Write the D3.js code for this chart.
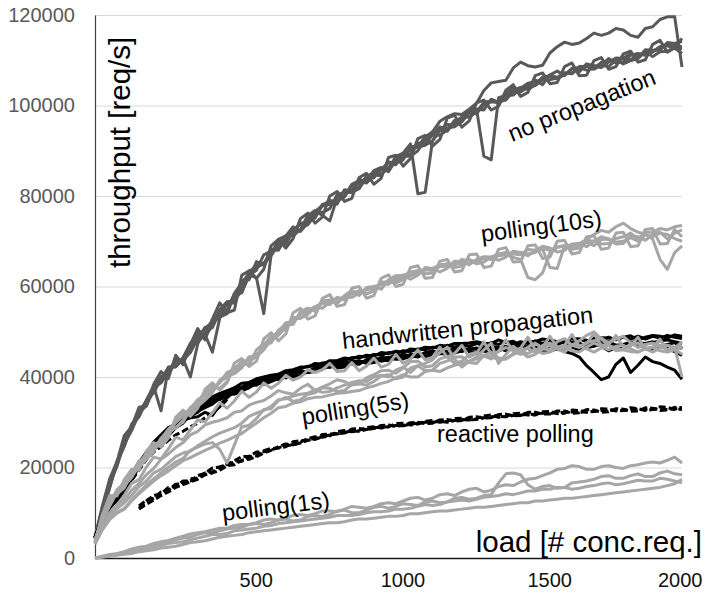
<!DOCTYPE html>
<html>
<head>
<meta charset="utf-8">
<script src="https://cdn.jsdelivr.net/npm/d3@7"></script>
<style>
  html, body { margin: 0; padding: 0; background: #fff; }
  svg { display: block; font-family: "Liberation Sans", Arial, sans-serif; }
</style>
</head>
<body>
<svg id="chart" width="706" height="594"></svg>
<script>
// ---------------- DATA (throughput in thousands of req/s) ----------------
const LOAD = [0, 25, 50, 75, 100, 125, 150, 175, 200, 225,
  250, 275, 300, 325, 350, 375, 400, 425, 450, 475,
  500, 525, 550, 575, 600, 625, 650, 675, 700, 725,
  750, 775, 800, 825, 850, 875, 900, 925, 950, 975,
  1000, 1025, 1050, 1075, 1100, 1125, 1150, 1175, 1200, 1225,
  1250, 1275, 1300, 1325, 1350, 1375, 1400, 1425, 1450, 1475,
  1500, 1525, 1550, 1575, 1600, 1625, 1650, 1675, 1700, 1725,
  1750, 1775, 1800, 1825, 1850, 1875, 1900, 1925, 1950, 1975,
  2000];
const UNIT = 1000;

const Y_TICKS = [0, 20000, 40000, 60000, 80000, 100000, 120000];
const X_TICKS = [500, 1000, 1500, 2000];

// no propagation
const NP1 = [4.5, 10.8, 16.4, 20.3, 25.9, 28.5, 32.2, 33.6, 37.2, 40.1,
  40.6, 43.6, 43.3, 46.5, 49.6, 49.4, 45.5, 53.0, 56.6, 56.3,
  61.2, 61.5, 65.5, 64.8, 68.3, 68.0, 71.1, 73.2, 72.2, 75.2,
  75.1, 78.2, 78.3, 78.2, 81.4, 81.1, 83.8, 82.9, 84.7, 84.5,
  87.6, 86.9, 89.4, 89.1, 91.7, 91.5, 93.6, 95.3, 94.3, 96.4,
  96.5, 99.0, 99.2, 99.0, 101.4, 100.7, 102.5, 104.0, 103.1, 104.6,
  105.6, 104.6, 106.8, 107.6, 106.6, 108.2, 107.4, 109.2, 108.8, 108.5,
  110.4, 109.4, 110.5, 111.5, 110.4, 112.3, 112.2, 112.2, 113.9, 113.7,
  114.2];
const NP2 = [4.3, 10.1, 15.7, 21.4, 24.9, 29.6, 31.5, 34.9, 37.9, 32.5,
  42.1, 42.2, 44.1, 47.5, 48.8, 49.0, 51.3, 54.9, 56.6, 56.9,
  59.5, 63.3, 64.6, 65.2, 67.0, 70.4, 71.2, 71.2, 72.6, 75.7,
  76.8, 75.7, 74.5, 79.7, 81.0, 80.8, 82.0, 84.4, 85.1, 84.9,
  86.0, 88.7, 89.5, 91.5, 80.5, 80.8, 92.2, 94.6, 95.8, 95.7,
  97.5, 97.4, 98.6, 100.7, 101.0, 100.6, 101.5, 103.4, 104.0, 103.5,
  104.6, 106.3, 106.5, 105.9, 106.8, 108.1, 108.4, 107.8, 108.2, 109.5,
  110.0, 109.5, 109.6, 111.1, 111.5, 111.1, 111.8, 113.0, 113.4, 113.1,
  113.0];
const NP3 = [4.7, 11.0, 16.5, 20.5, 25.5, 29.3, 31.2, 34.7, 36.5, 39.6,
  42.0, 42.4, 44.0, 40.0, 47.3, 50.8, 52.1, 53.2, 54.8, 58.5,
  60.8, 62.9, 64.2, 65.0, 66.8, 69.4, 70.8, 72.4, 73.8, 73.6,
  75.8, 77.8, 78.2, 78.9, 79.8, 82.3, 82.8, 83.0, 84.8, 86.1,
  86.2, 88.1, 88.8, 88.8, 90.0, 92.3, 93.4, 93.4, 94.6, 96.7,
  97.2, 98.5, 99.2, 88.8, 88.0, 101.7, 102.2, 102.3, 103.8, 104.9,
  105.2, 105.9, 106.7, 106.2, 107.2, 107.0, 108.6, 108.7, 108.8, 108.4,
  109.6, 110.5, 110.4, 110.1, 111.2, 111.7, 112.0, 112.9, 113.2, 112.7,
  112.6];
const NP4 = [4.4, 10.7, 16.0, 21.2, 25.3, 28.2, 31.9, 34.0, 37.6, 38.7,
  41.1, 43.7, 43.7, 45.4, 48.5, 51.0, 50.9, 54.5, 56.0, 57.0,
  59.0, 62.4, 63.6, 67.0, 67.8, 68.3, 70.5, 72.8, 72.2, 74.0,
  76.2, 76.4, 77.2, 80.3, 80.8, 80.8, 81.6, 84.1, 84.0, 85.9,
  87.4, 87.2, 88.0, 90.9, 91.0, 93.0, 94.2, 96.5, 97.5, 98.2,
  98.0, 99.2, 100.5, 103.3, 105.0, 105.3, 105.6, 108.3, 109.6, 108.8,
  108.5, 108.9, 111.6, 113.0, 114.0, 113.5, 113.8, 114.8, 116.0, 115.5,
  116.0, 117.0, 116.7, 115.5, 115.1, 117.0, 117.4, 119.0, 119.6, 119.6,
  108.5];
const NP5 = [4.6, 10.0, 15.5, 21.1, 24.7, 29.2, 32.5, 34.6, 37.9, 38.9,
  42.2, 42.4, 44.3, 47.2, 47.7, 49.4, 52.7, 53.2, 54.0, 58.2,
  58.6, 62.5, 62.0, 54.0, 67.0, 69.8, 69.4, 72.2, 74.0, 74.2,
  76.6, 77.9, 79.0, 78.8, 80.0, 82.6, 83.4, 83.2, 85.6, 86.3,
  85.4, 87.9, 88.6, 90.3, 90.8, 91.2, 92.2, 94.5, 95.0, 95.3,
  96.4, 98.4, 98.2, 100.1, 100.8, 100.8, 101.2, 103.2, 103.0, 104.1,
  104.4, 105.7, 105.7, 106.1, 107.2, 107.2, 108.0, 108.8, 108.0, 108.9,
  108.6, 110.1, 109.2, 109.9, 110.4, 111.9, 110.8, 111.9, 112.0, 112.9,
  114.8];
const NP6 = [4.5, 11.5, 17.5, 21.3, 27.1, 29.0, 33.3, 33.6, 38.4, 41.2,
  39.7, 44.8, 42.7, 47.2, 50.7, 48.2, 52.8, 56.4, 54.2, 54.8,
  62.5, 63.5, 61.8, 63.8, 69.0, 70.4, 68.5, 70.6, 75.0, 76.2,
  74.0, 75.4, 80.0, 81.0, 78.8, 79.5, 84.1, 85.0, 82.6, 83.9,
  88.5, 89.0, 86.6, 88.3, 92.7, 93.4, 91.0, 92.5, 97.2, 97.8,
  95.2, 96.6, 100.6, 101.2, 99.0, 99.8, 103.4, 104.6, 102.0, 102.9,
  106.6, 107.2, 104.8, 105.1, 108.6, 109.4, 106.6, 106.7, 109.9, 110.6,
  108.0, 108.6, 111.4, 112.0, 109.6, 110.1, 113.5, 114.4, 111.8, 112.7,
  111.5];

// polling(10s)
const P10_1 = [3.5, 8.0, 12.0, 15.1, 16.5, 18.0, 21.0, 23.0, 25.0, 25.3,
  27.0, 30.3, 32.0, 31.7, 34.5, 36.7, 38.0, 37.5, 39.0, 42.1,
  43.0, 42.7, 46.0, 47.4, 47.5, 50.4, 51.5, 51.6, 54.5, 55.2,
  54.5, 56.8, 57.0, 56.2, 58.0, 59.1, 58.0, 59.8, 60.0, 59.4,
  61.5, 62.4, 62.5, 61.6, 62.5, 64.2, 64.0, 63.2, 64.0, 65.6,
  65.5, 64.8, 66.0, 66.6, 66.5, 65.8, 66.5, 67.8, 67.5, 66.8,
  68.0, 68.9, 68.5, 67.6, 68.0, 69.4, 69.5, 68.8, 70.0, 71.0,
  70.5, 69.4, 69.5, 71.2, 71.0, 70.2, 71.5, 72.0, 70.5, 71.8,
  72.5];
const P10_2 = [3.8, 9.0, 13.0, 14.1, 15.5, 18.8, 20.0, 21.8, 23.5, 26.5,
  28.0, 28.7, 30.5, 33.3, 33.5, 34.9, 36.5, 39.3, 40.5, 40.7,
  42.0, 44.5, 44.5, 46.0, 48.5, 50.0, 50.5, 53.2, 53.0, 53.8,
  55.5, 56.4, 56.0, 57.6, 57.0, 58.6, 59.0, 58.4, 59.0, 61.0,
  61.0, 60.8, 61.5, 63.2, 63.5, 62.8, 63.0, 64.6, 65.0, 64.2,
  64.5, 66.0, 65.0, 65.4, 66.5, 67.2, 67.5, 66.4, 66.0, 62.0,
  61.5, 63.0, 67.5, 68.6, 69.0, 68.2, 68.5, 69.8, 69.0, 70.4,
  70.5, 69.8, 70.0, 70.8, 70.0, 71.4, 71.0, 71.8, 71.5, 70.6,
  70.0];
const P10_3 = [3.2, 8.8, 12.5, 14.7, 16.0, 17.8, 20.5, 22.6, 24.0, 25.5,
  27.5, 28.9, 30.0, 32.9, 34.0, 35.1, 37.0, 38.9, 40.0, 40.9,
  42.5, 44.3, 45.0, 46.2, 48.0, 49.2, 51.0, 52.8, 53.0, 54.6,
  55.5, 55.2, 56.5, 57.4, 57.5, 57.6, 58.5, 59.4, 59.5, 60.6,
  60.5, 61.8, 62.0, 62.4, 63.0, 63.8, 63.5, 64.4, 64.5, 65.2,
  65.0, 65.8, 65.5, 66.2, 66.0, 66.8, 67.0, 67.4, 67.5, 67.2,
  67.5, 68.4, 68.0, 68.8, 69.0, 69.2, 69.5, 70.4, 71.5, 72.4,
  72.0, 73.2, 74.0, 72.8, 72.0, 71.6, 70.5, 66.0, 63.8, 67.5,
  69.0];
const P10_4 = [4.2, 8.2, 11.5, 14.5, 17.0, 18.6, 21.5, 22.0, 24.5, 26.3,
  28.5, 29.9, 31.5, 33.1, 35.0, 35.9, 37.5, 38.7, 41.0, 41.7,
  43.5, 43.5, 44.5, 47.0, 49.0, 49.8, 52.0, 52.2, 54.0, 54.8,
  55.5, 56.2, 57.0, 56.6, 57.5, 58.4, 59.0, 59.2, 60.0, 60.4,
  61.0, 61.2, 62.5, 63.0, 63.5, 63.6, 64.0, 64.8, 65.0, 64.6,
  66.0, 65.6, 65.5, 66.4, 66.0, 67.0, 67.5, 67.2, 67.0, 68.2,
  68.0, 68.2, 64.2, 64.0, 69.0, 68.6, 69.0, 70.2, 70.0, 69.4,
  69.5, 70.6, 71.0, 71.8, 70.5, 72.0, 72.0, 72.8, 72.5, 73.2,
  73.5];
const P10_5 = [3.6, 9.5, 13.8, 13.7, 17.4, 19.6, 19.4, 23.6, 25.5, 24.5,
  26.5, 31.1, 32.7, 31.3, 33.1, 37.3, 38.7, 37.1, 38.7, 43.1,
  44.1, 42.3, 43.5, 48.4, 49.8, 48.0, 49.5, 54.2, 55.2, 52.8,
  53.5, 57.4, 58.2, 55.6, 56.0, 59.6, 60.0, 57.4, 58.0, 61.8,
  62.6, 60.0, 60.5, 64.2, 64.6, 61.8, 62.0, 65.6, 66.0, 63.2,
  63.5, 67.0, 67.2, 64.2, 64.5, 68.2, 68.6, 65.4, 65.5, 69.0,
  69.2, 66.2, 66.5, 70.0, 70.2, 67.2, 67.5, 71.0, 71.2, 68.2,
  68.5, 71.8, 72.0, 68.8, 69.0, 72.6, 72.8, 69.4, 69.5, 72.6,
  71.0];

// handwritten propagation
const HW1 = [4.5, 8.3, 11.2, 13.5, 15.0, 18.2, 20.4, 22.5, 24.8, 26.8,
  27.4, 29.5, 30.2, 31.4, 32.6, 34.0, 34.2, 35.7, 36.2, 36.6,
  37.4, 38.4, 38.2, 39.3, 39.6, 39.5, 40.0, 41.0, 40.8, 41.2,
  42.0, 42.4, 42.1, 43.0, 43.0, 43.5, 43.4, 43.2, 43.4, 44.3,
  44.2, 44.8, 44.6, 44.4, 44.6, 45.4, 45.4, 45.1, 45.8, 46.2,
  45.6, 46.3, 46.2, 46.7, 46.6, 46.1, 46.0, 46.8, 46.8, 46.3,
  46.4, 47.1, 47.0, 46.5, 46.6, 47.2, 47.4, 46.9, 47.0, 47.5,
  47.6, 47.0, 47.2, 47.7, 47.8, 47.3, 47.6, 48.0, 48.2, 47.8,
  47.4];
const HW2 = [4.3, 8.6, 11.5, 13.0, 15.5, 17.7, 20.0, 23.0, 24.2, 26.0,
  27.8, 28.8, 29.8, 31.8, 33.0, 33.4, 34.8, 35.0, 35.8, 36.5,
  37.0, 37.6, 38.8, 38.4, 39.0, 39.7, 40.6, 40.1, 41.2, 41.0,
  41.6, 42.3, 42.6, 42.2, 42.6, 43.4, 43.0, 43.7, 44.0, 43.5,
  43.8, 44.5, 44.2, 45.0, 45.0, 44.6, 44.8, 45.6, 45.4, 45.9,
  46.2, 45.5, 45.6, 46.4, 46.0, 45.8, 46.4, 46.0, 45.8, 46.5,
  46.6, 45.9, 45.8, 46.2, 45.6, 45.2, 44.4, 42.5, 41.0, 39.4,
  40.0, 42.8, 44.2, 41.0, 42.6, 44.4, 43.4, 43.0, 42.2, 41.5,
  39.5];
const HW3 = [4.6, 8.8, 12.2, 14.0, 16.1, 18.6, 20.8, 23.4, 25.0, 27.0,
  28.2, 29.6, 30.6, 31.6, 32.2, 34.3, 35.0, 35.8, 36.6, 37.6,
  37.8, 38.8, 39.0, 39.9, 40.2, 40.6, 41.0, 41.4, 41.8, 42.4,
  42.4, 43.1, 43.2, 43.4, 43.6, 44.3, 44.2, 44.8, 44.6, 45.4,
  45.2, 45.7, 45.4, 46.2, 46.0, 46.6, 46.4, 47.0, 46.8, 47.4,
  47.4, 47.5, 47.8, 47.4, 47.4, 48.2, 47.6, 47.9, 47.0, 47.8,
  47.8, 48.4, 48.2, 47.8, 47.6, 48.5, 48.4, 48.1, 48.0, 48.7,
  48.6, 48.3, 48.8, 49.1, 48.2, 48.8, 49.2, 49.0, 48.6, 49.3,
  49.0];
const HW4 = [4.4, 8.2, 11.0, 12.8, 14.7, 17.4, 20.2, 22.4, 24.6, 25.8,
  27.0, 28.8, 30.8, 31.2, 32.4, 33.2, 34.0, 35.3, 36.4, 36.2,
  36.8, 37.9, 38.6, 38.8, 39.8, 39.4, 40.4, 40.0, 40.2, 41.3,
  41.6, 41.8, 42.4, 42.0, 42.2, 43.1, 43.6, 43.0, 43.2, 43.8,
  44.4, 43.9, 44.0, 44.6, 44.8, 44.6, 45.0, 45.4, 45.2, 45.3,
  45.8, 46.2, 46.4, 45.7, 45.6, 46.3, 46.8, 46.0, 46.2, 46.9,
  46.0, 46.6, 46.8, 47.3, 46.4, 46.9, 47.4, 46.5, 46.8, 47.4,
  47.8, 47.0, 46.6, 47.5, 47.0, 47.4, 47.8, 46.8, 47.2, 47.6,
  46.2];
const HW5 = [4.5, 8.7, 11.8, 13.4, 15.3, 17.8, 20.6, 22.8, 24.4, 26.2,
  27.6, 29.0, 30.4, 31.0, 31.2, 32.2, 31.5, 33.8, 35.4, 37.0,
  37.6, 37.8, 38.4, 39.3, 39.4, 40.2, 39.8, 40.9, 41.4, 41.0,
  41.2, 42.2, 42.8, 42.5, 43.2, 42.9, 42.8, 43.8, 44.2, 43.8,
  43.6, 44.2, 45.0, 44.7, 44.4, 45.3, 45.8, 45.2, 45.0, 46.1,
  46.6, 45.8, 45.2, 46.0, 46.8, 46.5, 45.8, 46.7, 47.2, 46.3,
  45.6, 46.2, 46.4, 47.2, 47.8, 46.6, 46.0, 46.9, 47.6, 46.8,
  45.8, 46.5, 46.6, 47.3, 47.4, 46.4, 45.8, 46.6, 46.4, 45.6,
  44.8];
const HW6 = [4.5, 8.9, 12.0, 13.8, 15.9, 18.6, 21.2, 23.2, 25.6, 27.2,
  28.8, 29.6, 31.2, 32.4, 33.6, 34.2, 35.6, 36.4, 37.0, 37.6,
  38.6, 38.8, 39.6, 40.0, 40.4, 40.6, 41.4, 41.6, 42.2, 42.2,
  43.0, 42.8, 43.6, 43.6, 44.2, 44.0, 44.6, 44.4, 45.0, 44.8,
  45.4, 45.2, 45.8, 45.6, 46.2, 46.0, 46.6, 46.4, 47.0, 46.6,
  47.2, 46.8, 47.4, 47.0, 47.6, 47.2, 47.8, 47.2, 47.8, 47.4,
  48.0, 47.4, 48.0, 47.6, 48.2, 47.6, 48.4, 47.8, 48.6, 48.0,
  48.8, 48.2, 48.8, 48.4, 49.0, 48.4, 49.0, 48.6, 49.2, 48.8,
  48.5];

// polling(5s)
const P5_1 = [3.5, 7.2, 9.6, 11.8, 12.8, 15.0, 16.5, 18.4, 19.8, 21.8,
  23.0, 24.4, 25.5, 27.2, 28.0, 29.4, 30.0, 30.4, 31.0, 32.2,
  32.5, 33.8, 34.4, 34.8, 35.8, 37.0, 36.5, 36.2, 37.5, 38.4,
  37.0, 37.8, 38.5, 39.4, 39.0, 38.2, 38.5, 39.8, 40.5, 41.4,
  41.5, 40.8, 42.0, 43.4, 43.5, 42.2, 42.5, 44.0, 44.5, 43.0,
  43.5, 45.0, 45.5, 44.6, 44.0, 45.8, 46.5, 46.0, 45.0, 46.6,
  47.5, 46.2, 46.0, 47.8, 48.5, 47.0, 46.5, 47.6, 48.0, 48.6,
  47.5, 48.4, 49.0, 47.6, 46.5, 47.2, 47.5, 46.8, 46.0, 46.4,
  47.0];
const P5_2 = [3.2, 6.4, 8.8, 10.1, 11.0, 12.8, 14.5, 16.2, 17.5, 18.8,
  20.0, 21.2, 22.0, 23.8, 24.5, 25.2, 25.5, 24.0, 21.0, 25.0,
  29.0, 29.3, 30.8, 32.8, 33.0, 34.8, 35.5, 34.6, 35.0, 36.2,
  36.5, 37.6, 37.5, 36.8, 37.0, 38.4, 38.5, 38.2, 39.0, 40.2,
  40.5, 39.6, 40.0, 42.0, 42.5, 41.4, 41.5, 43.0, 43.5, 44.4,
  44.5, 43.2, 43.0, 44.8, 45.5, 44.2, 44.0, 45.2, 46.0, 46.4,
  45.5, 47.0, 47.5, 46.2, 45.5, 47.0, 48.0, 49.2, 50.0, 48.4,
  47.0, 45.8, 46.0, 47.4, 47.5, 46.2, 45.5, 46.4, 47.0, 46.2,
  45.0];
const P5_3 = [3.8, 6.8, 9.5, 10.9, 12.2, 13.8, 15.8, 17.0, 18.8, 19.6,
  21.0, 22.4, 23.2, 23.6, 24.8, 25.8, 26.8, 27.6, 28.2, 28.8,
  29.8, 31.3, 32.0, 32.6, 33.5, 35.0, 35.2, 35.8, 36.2, 36.4,
  37.2, 36.6, 36.8, 37.6, 38.2, 38.8, 39.2, 39.0, 40.0, 40.4,
  40.0, 41.5, 42.2, 41.0, 42.5, 43.0, 43.8, 45.4, 46.6, 44.0,
  42.2, 43.4, 44.4, 46.0, 47.5, 43.0, 45.0, 46.8, 45.5, 44.4,
  45.0, 46.2, 47.0, 46.4, 46.5, 45.8, 45.5, 46.6, 47.5, 46.8,
  46.0, 46.8, 47.0, 46.2, 45.5, 46.4, 46.5, 45.8, 45.5, 46.0,
  46.5];
const P5_4 = [3.0, 6.2, 8.5, 9.9, 10.8, 12.6, 14.2, 15.6, 17.0, 18.2,
  19.2, 20.4, 21.5, 22.2, 23.0, 23.8, 24.5, 25.4, 26.0, 26.8,
  27.5, 28.7, 29.8, 31.0, 32.0, 33.2, 33.5, 34.2, 34.5, 35.2,
  35.5, 35.6, 36.0, 36.4, 36.5, 36.8, 37.0, 37.6, 38.0, 38.6,
  39.0, 39.8, 40.5, 40.0, 40.0, 41.2, 41.5, 41.2, 42.0, 42.6,
  43.0, 43.4, 44.0, 44.6, 44.5, 43.8, 44.0, 45.0, 45.5, 45.2,
  46.0, 45.2, 45.5, 46.4, 46.5, 47.2, 47.0, 46.2, 45.5, 46.4,
  47.0, 46.4, 46.0, 45.6, 45.5, 46.2, 46.5, 47.0, 47.0, 46.6,
  40.0];
const P5_5 = [3.4, 7.2, 10.0, 11.6, 13.9, 16.5, 17.3, 20.1, 22.3, 21.9,
  24.1, 26.7, 26.1, 28.3, 30.5, 30.1, 32.1, 34.3, 33.1, 34.7,
  36.9, 35.5, 36.7, 38.7, 37.5, 38.6, 40.4, 39.3, 40.0, 41.6,
  41.0, 41.6, 43.0, 41.2, 41.4, 43.2, 41.4, 42.4, 44.2, 42.2,
  42.8, 45.0, 43.0, 44.0, 46.0, 43.8, 44.4, 46.6, 44.4, 45.2,
  47.0, 44.4, 45.2, 47.8, 45.0, 45.6, 48.2, 45.6, 46.4, 48.8,
  46.0, 46.6, 49.0, 46.6, 47.0, 49.4, 46.8, 47.4, 49.6, 47.0,
  47.2, 49.2, 46.6, 46.8, 48.8, 46.2, 46.6, 48.4, 45.8, 46.4,
  47.8];

// reactive polling (dashed)
const RP1 = [null, null, null, null, null, null, 11.5, 12.8, 13.2, 14.6,
  15.0, 16.3, 16.4, 17.5, 17.6, 18.8, 19.0, 20.1, 20.6, 21.2,
  21.4, 22.4, 22.6, 23.7, 24.2, 24.3, 24.6, 25.7, 25.9, 26.1,
  26.4, 27.3, 27.4, 27.5, 27.6, 28.5, 28.6, 28.4, 28.6, 29.3,
  29.4, 29.1, 29.3, 29.9, 30.0, 29.7, 29.8, 30.5, 30.6, 30.2,
  30.4, 31.1, 31.2, 30.9, 31.0, 31.7, 31.8, 31.4, 31.5, 32.2,
  32.2, 31.8, 31.8, 32.5, 32.5, 32.0, 32.1, 32.8, 32.7, 32.2,
  32.3, 33.0, 32.9, 32.4, 32.5, 33.2, 33.1, 32.6, 32.7, 33.3,
  33.2];
const RP2 = [null, null, null, null, null, null, 11.0, 12.6, 13.8, 14.2,
  15.6, 15.8, 17.0, 17.0, 18.2, 18.7, 19.9, 20.1, 20.7, 21.5,
  22.4, 22.5, 23.4, 23.5, 23.8, 24.6, 25.2, 25.0, 25.6, 26.4,
  26.8, 26.7, 27.0, 27.9, 28.2, 27.9, 28.2, 28.8, 29.0, 28.7,
  29.0, 29.7, 29.8, 29.4, 29.6, 30.2, 30.4, 30.0, 30.2, 30.8,
  30.9, 30.5, 30.8, 31.4, 31.6, 31.1, 31.3, 31.9, 32.0, 31.6,
  31.6, 32.3, 32.4, 31.9, 32.0, 32.7, 32.6, 32.2, 32.4, 33.0,
  32.9, 32.5, 32.6, 33.2, 33.0, 32.6, 32.8, 33.4, 33.3, 32.8,
  32.9];
const RP3 = [null, null, null, null, null, null, 10.8, 11.9, 12.8, 13.8,
  14.6, 15.6, 16.2, 16.8, 17.4, 18.4, 18.8, 19.4, 20.4, 20.6,
  21.6, 21.8, 22.4, 23.2, 23.8, 24.4, 24.8, 25.0, 25.4, 26.0,
  26.2, 26.8, 27.2, 27.4, 27.8, 28.0, 28.0, 28.4, 28.8, 28.9,
  29.0, 29.3, 29.2, 29.6, 29.8, 30.0, 30.0, 30.2, 30.0, 30.4,
  30.6, 30.5, 30.6, 31.0, 31.2, 31.3, 31.2, 31.5, 31.6, 31.7,
  31.8, 32.0, 32.0, 32.1, 32.2, 32.3, 32.2, 32.3, 32.4, 32.6,
  32.6, 32.6, 32.6, 32.8, 32.8, 32.8, 33.0, 32.9, 32.8, 33.0,
  33.0];
// an early run that is only visible up to ~450 requests
const RP4 = [4.4, 8.2, 11.2, 12.8, 14.8, 17.2, 19.4, 21.8, 23.4, 24.6,
  26.0, 27.2, 28.0, 29.0, 29.8, 31.0, 32.0, 33.4, 35.0];

// polling(1s)
const P1_1 = [0, 0.4, 0.8, 1.0, 1.4, 2.0, 2.4, 2.6, 3.2, 3.6,
  3.9, 4.4, 4.8, 5.3, 5.6, 5.8, 6.2, 6.6, 6.6, 7.2,
  7.4, 7.4, 7.8, 8.4, 8.6, 8.4, 8.8, 9.4, 9.6, 9.4,
  9.8, 10.4, 10.4, 10.2, 10.8, 11.4, 11.2, 11.0, 11.4, 12.0,
  12.2, 12.0, 12.6, 13.2, 13.4, 12.8, 13.2, 14.0, 14.2, 13.8,
  14.6, 15.2, 15.4, 14.6, 15.0, 15.8, 16.2, 16.0, 16.8, 17.4,
  17.6, 18.2, 18.8, 19.6, 19.8, 20.4, 20.2, 19.6, 19.6, 20.2,
  20.4, 20.0, 19.8, 20.4, 20.6, 21.0, 21.2, 21.0, 21.6, 22.3,
  21.0];
const P1_2 = [0, 0.3, 0.6, 0.8, 1.2, 1.8, 2.2, 2.4, 3.0, 3.0,
  3.4, 4.0, 4.4, 4.6, 5.2, 5.6, 5.6, 6.0, 6.4, 6.6,
  6.8, 7.4, 7.6, 7.4, 7.8, 8.4, 8.6, 8.2, 8.4, 9.2,
  9.4, 9.2, 9.6, 10.4, 10.6, 10.0, 10.0, 10.6, 11.2, 11.4,
  11.0, 11.4, 12.0, 11.8, 11.6, 12.4, 12.6, 12.2, 12.4, 13.2,
  13.4, 13.0, 13.2, 13.8, 14.0, 16.6, 18.6, 18.8, 18.4, 16.2,
  15.2, 15.8, 16.0, 15.4, 15.6, 16.6, 16.8, 17.0, 17.4, 18.0,
  18.2, 17.6, 17.6, 18.2, 18.6, 18.0, 18.0, 18.8, 19.2, 18.6,
  18.4];
const P1_3 = [0, 0.2, 0.5, 0.8, 1.0, 1.2, 1.6, 2.0, 2.4, 2.8,
  3.2, 3.4, 3.6, 4.0, 4.4, 4.8, 5.2, 5.2, 5.4, 6.0,
  6.2, 6.4, 6.6, 7.0, 7.2, 7.6, 7.8, 8.0, 8.2, 8.4,
  8.6, 8.8, 9.0, 9.4, 9.4, 9.4, 9.6, 10.0, 10.2, 10.2,
  10.4, 10.8, 10.8, 11.0, 11.4, 11.8, 11.6, 11.8, 12.4, 12.6,
  12.8, 12.6, 13.0, 13.4, 13.6, 13.8, 14.2, 14.0, 14.4, 14.8,
  14.8, 15.2, 15.2, 15.6, 15.6, 15.2, 15.4, 15.8, 16.0, 16.4,
  16.6, 16.2, 16.4, 16.8, 17.2, 17.0, 17.0, 17.6, 17.4, 17.0,
  16.6];
const P1_4 = [0, 0.2, 0.4, 0.6, 0.8, 1.0, 1.4, 1.6, 1.8, 2.2,
  2.4, 2.6, 3.0, 3.4, 3.6, 3.8, 4.2, 4.6, 4.8, 5.0,
  5.2, 5.6, 5.8, 6.0, 6.2, 6.4, 6.6, 6.8, 7.0, 7.2,
  7.4, 7.6, 7.8, 7.8, 8.0, 8.4, 8.6, 8.6, 8.8, 9.0,
  9.2, 9.2, 9.4, 9.8, 9.8, 10.0, 10.2, 10.4, 10.4, 10.6,
  10.8, 11.0, 11.2, 11.2, 11.4, 11.6, 11.8, 12.0, 12.2, 12.2,
  12.6, 12.6, 12.8, 13.0, 13.2, 13.2, 13.4, 13.6, 13.8, 14.0,
  14.2, 14.4, 14.6, 14.8, 15.0, 15.2, 15.4, 15.6, 16.0, 16.4,
  17.4];

const GROUP_NAMES = ["no propagation", "handwritten propagation", "reactive polling",
  "polling(1s)", "polling(5s)", "polling(10s)"];

// ---------------- CHART ----------------
const groups = [
  { name: GROUP_NAMES[0], color: "#595959", dash: null, runs: [NP1, NP2, NP3, NP4, NP5, NP6] },
  { name: GROUP_NAMES[1], color: "#000000", dash: null, runs: [HW1, HW2, HW3, HW4, HW5, HW6] },
  { name: GROUP_NAMES[2], color: "#000000", dash: "7,3", runs: [RP4, RP1, RP2, RP3] },
  { name: GROUP_NAMES[3], color: "#a6a6a6", dash: null, runs: [P1_1, P1_2, P1_3, P1_4] },
  { name: GROUP_NAMES[4], color: "#a6a6a6", dash: null, runs: [P5_1, P5_2, P5_3, P5_4, P5_5] },
  { name: GROUP_NAMES[5], color: "#a6a6a6", dash: null, runs: [P10_1, P10_2, P10_3, P10_4, P10_5] }
];

const svg = d3.select("#chart");
const plot = { left: 95, right: 682, top: 15, bottom: 558 };

const x = d3.scaleLinear().domain([0, 2000]).range([plot.left, plot.right]);
const y = d3.scaleLinear().domain([0, 120000]).range([plot.bottom, plot.top]);

svg.append("rect").attr("width", 706).attr("height", 594).attr("fill", "#fff");

// gridlines
const grid = svg.append("g").attr("transform", `translate(${plot.left},0)`)
  .call(d3.axisLeft(y).tickValues(Y_TICKS.filter(v => v > 0))
    .tickSize(-(plot.right - plot.left)).tickFormat(""));
grid.select(".domain").remove();
grid.selectAll("line").attr("stroke", "#d9d9d9").attr("stroke-width", 1);

// y axis
const yAxis = svg.append("g").attr("transform", `translate(${plot.left},0)`)
  .call(d3.axisLeft(y).tickValues(Y_TICKS).tickSize(0).tickSizeOuter(0).tickPadding(20)
    .tickFormat(d3.format("d")));
yAxis.select(".domain").attr("stroke", "#404040").attr("stroke-width", 1.2);
yAxis.selectAll("text").attr("font-size", 20).attr("fill", "#595959")
  .attr("font-family", "Liberation Sans, Arial, sans-serif");

// x axis
const xAxis = svg.append("g").attr("transform", `translate(0,${plot.bottom})`)
  .call(d3.axisBottom(x).tickValues(X_TICKS).tickSize(0).tickSizeOuter(0).tickPadding(15)
    .tickFormat(d3.format("d")));
xAxis.select(".domain").attr("stroke", "#1a1a1a").attr("stroke-width", 1.4);
xAxis.selectAll("text").attr("font-size", 20).attr("fill", "#111")
  .attr("font-family", "Liberation Sans, Arial, sans-serif")
  .attr("dx", 14);
xAxis.selectAll(".tick").filter(d => d === X_TICKS[X_TICKS.length - 1]).select("text")
  .attr("text-anchor", "end").attr("dx", 20);

// series
const line = d3.line()
  .defined(d => d[1] != null)
  .x(d => x(d[0]))
  .y(d => y(d[1] * UNIT));

const linesG = svg.append("g");
groups.forEach(g => {
  g.runs.forEach(run => {
    const pts = LOAD.map((l, i) => [l, run[i] === undefined ? null : run[i]]);
    linesG.append("path")
      .datum(pts)
      .attr("d", line)
      .attr("fill", "none")
      .attr("stroke", g.color)
      .attr("stroke-width", 3)
      .attr("stroke-linejoin", "round")
      .attr("stroke-dasharray", g.dash);
  });
});

// axis titles
svg.append("text")
  .attr("transform", "translate(130,268) rotate(-90)")
  .attr("font-size", 29.5).attr("fill", "#000")
  .text("throughput [req/s]");
svg.append("text")
  .attr("x", 702).attr("y", 552).attr("text-anchor", "end")
  .attr("font-size", 29.5).attr("fill", "#000")
  .text("load [# conc.req.]");

// group labels
const labelLayout = {
  "no propagation": { x: 512, y: 142, a: -22 },
  "polling(10s)": { x: 482, y: 242, a: -7.5 },
  "handwritten propagation": { x: 343, y: 349, a: -6 },
  "polling(5s)": { x: 303, y: 425, a: -9 },
  "reactive polling": { x: 437, y: 442, a: 0 },
  "polling(1s)": { x: 223, y: 521, a: -7 }
};
GROUP_NAMES.forEach(n => {
  const p = labelLayout[n];
  svg.append("text")
    .attr("transform", `translate(${p.x},${p.y}) rotate(${p.a})`)
    .attr("font-size", 23.5).attr("fill", "#000")
    .text(n);
});
</script>
</body>
</html>
